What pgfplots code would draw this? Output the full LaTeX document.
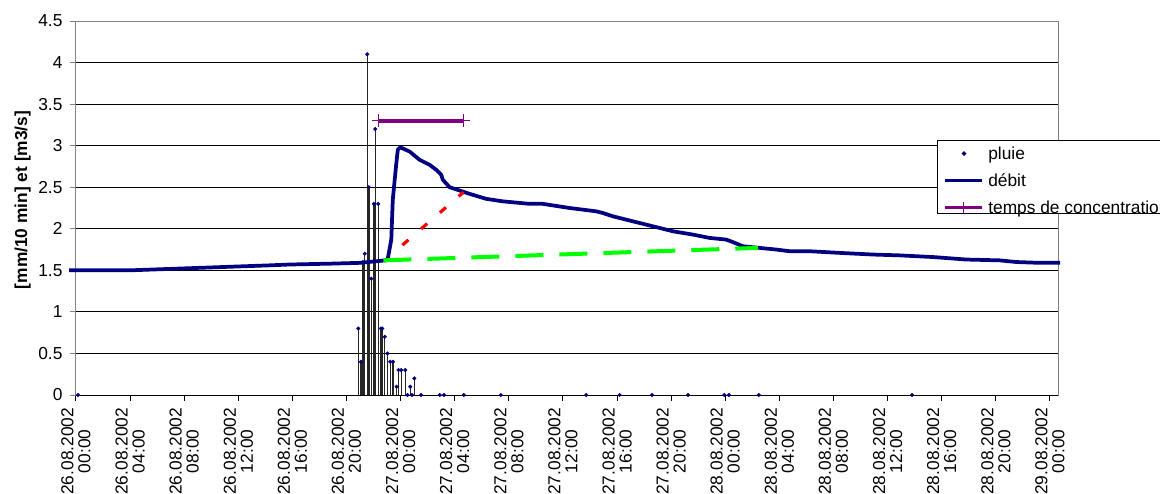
\documentclass[border=0pt]{standalone}
\usepackage{fontspec}
\setmainfont{Liberation Sans}
\usepackage{pgfplots}
\usepackage{pgfplotstable}
\pgfplotsset{compat=1.18}

\definecolor{debit}{RGB}{0,0,128}
\definecolor{tconc}{RGB}{128,0,128}
\definecolor{vert}{RGB}{0,255,0}
\definecolor{rouge}{RGB}{255,0,0}
\definecolor{axisgray}{RGB}{128,128,128}

% time in hours from 26.08.2002 00:00
\pgfplotstableread{
h     v
0.15  0
20.87 0.8
21.06 0.4
21.21 1.6
21.35 1.7
21.53 4.1
21.65 2.5
21.83 1.4
22.02 2.3
22.12 3.2
22.34 2.3
22.54 0.8
22.64 0.8
22.83 0.7
23.03 0.5
23.23 0.4
23.44 0.4
23.70 0.1
23.84 0.3
24.04 0.3
24.34 0.3
24.51 0
24.71 0.1
24.84 0
25.01 0.2
25.51 0
26.89 0
27.21 0
28.67 0
31.41 0
37.72 0
40.19 0
42.59 0
45.25 0
47.93 0
48.27 0
50.48 0
61.81 0
}\pluie

\pgfplotstableread{
h     q
-0.5  1.50
0     1.50
3.96  1.50
9.13  1.53
14.31 1.56
15.79 1.57
18.74 1.58
20.96 1.59
22.88 1.62
23.05 1.64
23.31 1.87
23.42 2.35
23.67 2.77
23.79 2.95
23.97 2.98
24.66 2.93
25.40 2.83
26.14 2.77
26.63 2.71
27.00 2.65
27.12 2.59
27.62 2.50
28.36 2.46
29.10 2.42
30.33 2.36
31.56 2.33
33.53 2.30
34.51 2.30
36.49 2.25
38.46 2.21
38.95 2.19
39.69 2.15
41.17 2.09
42.65 2.03
44.13 1.97
45.60 1.93
46.84 1.89
48.07 1.87
48.56 1.84
49.30 1.79
50.54 1.77
51.77 1.75
52.75 1.73
54.23 1.73
56.45 1.71
58.91 1.69
60.89 1.68
63.35 1.66
65.82 1.63
68.29 1.62
69.52 1.60
71.24 1.59
72.75 1.59
}\debitdata

\begin{document}
\begin{tikzpicture}
\begin{axis}[
  at={(0pt,0pt)}, anchor=south west,
  scale only axis, width=736.5pt, height=280.5pt,
  xmin=0, xmax=72.6, ymin=0, ymax=4.5,
  clip=false,
  axis line style={axisgray, line width=0.75pt},
  ytick={0,0.5,...,4.5},
  xtick={0,4,...,72},
  xticklabels={
    26.08.2002\\00:00, 26.08.2002\\04:00, 26.08.2002\\08:00,
    26.08.2002\\12:00, 26.08.2002\\16:00, 26.08.2002\\20:00,
    27.08.2002\\00:00, 27.08.2002\\04:00, 27.08.2002\\08:00,
    27.08.2002\\12:00, 27.08.2002\\16:00, 27.08.2002\\20:00,
    28.08.2002\\00:00, 28.08.2002\\04:00, 28.08.2002\\08:00,
    28.08.2002\\12:00, 28.08.2002\\16:00, 28.08.2002\\20:00,
    29.08.2002\\00:00},
  tick align=outside, major tick length=4.5pt,
  xtick pos=bottom, ytick pos=left,
  x tick style={black, line width=0.75pt},
  y tick style={axisgray, line width=0.75pt},
  ymajorgrids, grid style={black, line width=0.75pt},
  /pgf/number format/assume math mode=true,
  tick label style={font=\fontsize{13}{12.75}\selectfont},
  yticklabel style={inner sep=0pt, anchor=east, xshift=-5.5pt},
  xticklabel style={inner sep=0pt, yshift=-5pt, rotate=90, anchor=east, align=center},
  ylabel={[mm/10 min] et [m3/s]},
  every axis y label/.style={at={(axis description cs:0,0.5)}, xshift=-40pt, yshift=6pt,
    rotate=90, anchor=center, font=\bfseries\fontsize{13}{15}\selectfont},
  legend style={at={(axis description cs:0.87678,0.68182)}, anchor=north west,
    draw=black, line width=0.75pt, fill=white,
    inner xsep=4.3pt, inner ysep=0pt, row sep=6.25pt, column sep=3.5pt,
    font=\fontsize{13}{15}\selectfont,
    nodes={inner sep=0pt, text height=14pt, text depth=0pt, anchor=base west}},
]
% x axis line in black
\draw[black, line width=0.75pt] (rel axis cs:0,0) -- (rel axis cs:1,0);

% rain: vertical stems and point marks
\addplot[ycomb, black!85, line width=1pt, forget plot] table[x=h, y=v] {\pluie};
\addplot[only marks, mark=*, mark size=1.3pt, color=debit,
  legend image code/.code={\fill[debit] (14.25pt,4.2pt) circle (1.3pt);}]
  table[x=h, y=v] {\pluie};
\addlegendentry{pluie}

% discharge
\addplot[debit, line width=2.8pt, line join=round,
  legend image code/.code={\draw[debit, line width=2.8pt] (0pt,4.2pt) -- (27.5pt,4.2pt);}]
  table[x=h, y=q] {\debitdata};
\addlegendentry{débit}

% time of concentration
\addplot[tconc, line width=2.8pt, mark=+, mark size=5pt, mark options={line width=0.75pt, solid},
  legend image code/.code={\draw[tconc, line width=2.8pt] (0pt,4.2pt) -- (27.5pt,4.2pt);
    \draw[tconc, line width=0.75pt] (13.75pt,0pt) -- (13.75pt,8.4pt);}]
  coordinates {(22.37,3.3) (28.67,3.3)};
\addlegendentry{temps de concentration}

% base flow separation and rising limb construction
\addplot[vert, line width=3pt, dash pattern=on 21pt off 12pt, forget plot]
  coordinates {(22.73,1.62) (50.41,1.77)};
\addplot[rouge, line width=2.4pt, dash pattern=on 6pt off 12.6pt, dash phase=5.85pt, forget plot]
  coordinates {(23.18,1.67) (28.65,2.44)};
\end{axis}
\pgfresetboundingbox
\useasboundingbox (-57pt,-73.5pt) rectangle (813pt,296.25pt);
\end{tikzpicture}
\end{document}
